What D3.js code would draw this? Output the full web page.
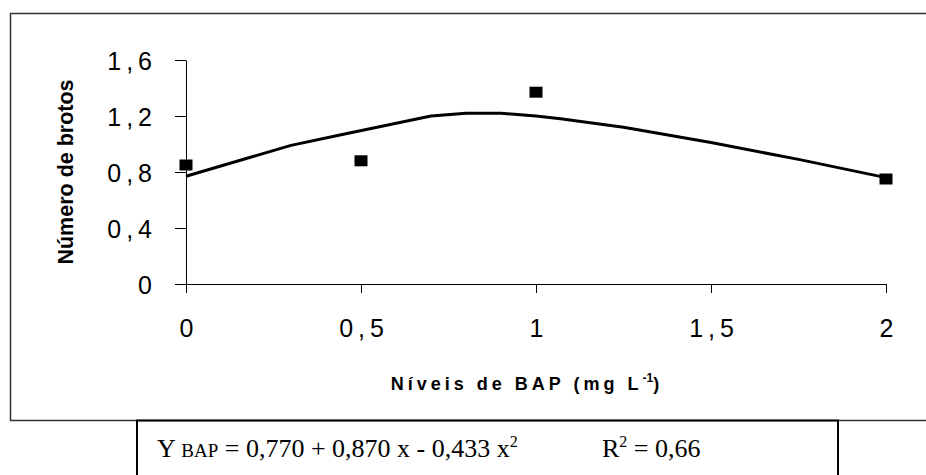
<!DOCTYPE html>
<html>
<head>
<meta charset="utf-8">
<script src="https://cdn.jsdelivr.net/npm/d3@7"></script>
<style>
  body { margin: 0; background: #fff; }
  svg { display: block; }
</style>
</head>
<body>
<div id="chart"></div>
<script>
// data
var pointX = [0, 0.5, 1, 2];
var pointY = [0.85, 0.88, 1.37, 0.75];

// trend line vertices as drawn
var trendX = [0, 0.3, 0.45, 0.7, 0.8, 0.9, 1.0, 1.07, 1.25, 1.5, 1.75, 2];
var trendY = [0.77, 0.99, 1.07, 1.2, 1.22, 1.22, 1.2, 1.18, 1.12, 1.01, 0.89, 0.76];

var xTicks = [0, 0.5, 1, 1.5, 2];
var yTicks = [0, 0.4, 0.8, 1.2, 1.6];
var xTickLabels = ["0", "0,5", "1", "1,5", "2"];
var yTickLabels = ["0", "0,4", "0,8", "1,2", "1,6"];

var W = 926, H = 475;
var margin = {top: 60, left: 186};
var width = 700, height = 224;

var svg = d3.select("#chart").append("svg")
    .attr("width", W)
    .attr("height", H);

svg.append("rect").attr("width", W).attr("height", H).attr("fill", "#fff");

// outer chart frame (open on the right)
svg.append("path")
    .attr("d", "M930,13.5H10.5V420.5H930")
    .attr("fill", "none")
    .attr("stroke", "#333")
    .attr("stroke-width", 1.5);

var g = svg.append("g")
    .attr("transform", "translate(" + margin.left + "," + margin.top + ")");

var xScale = d3.scaleLinear().domain([0, 2]).range([0, width]);
var yScale = d3.scaleLinear().domain([0, 1.6]).range([height, 0]);

var tickFont = "'Liberation Sans', Arial, sans-serif";

// y axis
var yAxis = g.append("g")
    .attr("class", "y axis")
    .call(d3.axisLeft(yScale)
        .tickValues(yTicks)
        .tickSize(11)
        .tickPadding(23)
        .tickFormat(function(d, i) { return yTickLabels[i]; }));

// x axis
var xAxis = g.append("g")
    .attr("class", "x axis")
    .attr("transform", "translate(0," + height + ")")
    .call(d3.axisBottom(xScale)
        .tickValues(xTicks)
        .tickSize(9)
        .tickSizeOuter(0)
        .tickPadding(26)
        .tickFormat(function(d, i) { return xTickLabels[i]; }));

yAxis.select(".domain").attr("d", "M0.5," + (height + 9) + "V0.5");
xAxis.select(".domain").attr("d", "M-11,0.5H" + (width + 0.5));

svg.selectAll(".axis path, .axis line")
    .attr("stroke", "#000")
    .attr("stroke-width", 1);

svg.selectAll(".axis text")
    .attr("fill", "#000")
    .style("font-family", tickFont)
    .style("font-size", "25px")
    .style("letter-spacing", "5px");

yAxis.selectAll("text").attr("dy", "0.36em").attr("dx", "5");
xAxis.selectAll("text").attr("dx", "2.5");

// trend line
var line = d3.line()
    .x(function(d) { return xScale(d[0]); })
    .y(function(d) { return yScale(d[1]); });

g.append("path")
    .datum(trendX.map(function(x, i) { return [x, trendY[i]]; }))
    .attr("fill", "none")
    .attr("stroke", "#000")
    .attr("stroke-width", 3)
    .attr("stroke-linejoin", "round")
    .attr("d", line);

// data points
g.selectAll(".dot")
    .data(pointX.map(function(x, i) { return [x, pointY[i]]; }))
  .enter().append("rect")
    .attr("class", "dot")
    .attr("x", function(d) { return xScale(d[0]) - 6.5; })
    .attr("y", function(d) { return yScale(d[1]) - 5.5; })
    .attr("width", 13)
    .attr("height", 11)
    .attr("fill", "#000");

// axis titles
svg.append("text")
    .attr("transform", "translate(73,172) rotate(-90)")
    .attr("text-anchor", "middle")
    .style("font-family", tickFont)
    .style("font-weight", "bold")
    .style("font-size", "21.5px")
    .text("Número de brotos");

var xt = svg.append("text")
    .attr("x", 527)
    .attr("y", 390)
    .attr("text-anchor", "middle")
    .style("font-family", tickFont)
    .style("font-weight", "bold")
    .style("font-size", "18px")
    .style("letter-spacing", "4px");
xt.append("tspan").text("Níveis de BAP (mg L");
xt.append("tspan").attr("dy", "-8").style("font-size", "12px").style("letter-spacing", "0px").text("-1");
xt.append("tspan").attr("dy", "8").text(")");

// equation box
svg.append("path")
    .attr("d", "M137,480V420.5H838V480")
    .attr("fill", "none")
    .attr("stroke", "#000")
    .attr("stroke-width", 2);

var eqFont = "'Liberation Serif', 'Times New Roman', serif";

var eq = svg.append("text")
    .attr("x", 157)
    .attr("y", 457)
    .style("font-family", eqFont)
    .style("font-size", "26px");
eq.append("tspan").text("Y ");
eq.append("tspan").style("font-size", "19px").text("BAP");
eq.append("tspan").text(" = 0,770 + 0,870 x - 0,433 x");
eq.append("tspan").attr("dy", "-10").style("font-size", "16px").text("2");

var r2 = svg.append("text")
    .attr("x", 602)
    .attr("y", 457)
    .style("font-family", eqFont)
    .style("font-size", "26px");
r2.append("tspan").text("R");
r2.append("tspan").attr("dy", "-10").style("font-size", "16px").text("2");
r2.append("tspan").attr("dy", "10").text(" = 0,66");
</script>
</body>
</html>
